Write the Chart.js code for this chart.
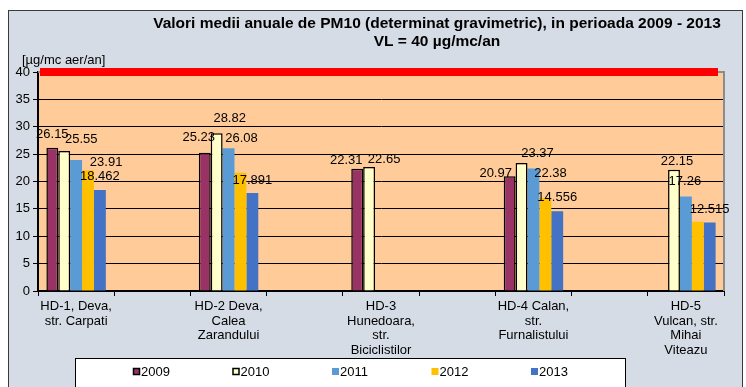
<!DOCTYPE html>
<html>
<head>
<meta charset="utf-8">
<script src="https://cdn.jsdelivr.net/npm/chart.js"></script>
<style>
  html, body { margin: 0; padding: 0; background: #fff; }
  #wrap { width: 746px; height: 387px; }
</style>
</head>
<body>
<div id="wrap"><canvas id="pm10Chart" width="746" height="387"></canvas></div>
<script>
// statii (cu coloane goale intre ele, ca in graficul original)
const stations = [
  ['HD-1, Deva,', 'str. Carpati'], '',
  ['HD-2 Deva,', 'Calea', 'Zarandului'], '',
  ['HD-3', 'Hunedoara,', 'str.', 'Biciclistilor'], '',
  ['HD-4 Calan,', 'str.', 'Furnalistului'], '',
  ['HD-5', 'Vulcan, str.', 'Mihai', 'Viteazu']
];
const years = ['2009', '2010', '2011', '2012', '2013'];
const pm2009 = [26.15, null, 25.23, null, 22.31, null, 20.97, null, null];
const pm2010 = [25.55, null, 28.82, null, 22.65, null, 23.37, null, 22.15];
const pm2011 = [23.91, null, 26.08, null, null, null, 22.38, null, 17.26];
const pm2012 = [22.0, null, 21.6, null, null, null, 17.0, null, 12.65];
const pm2013 = [18.462, null, 17.891, null, null, null, 14.556, null, 12.515];
const yTicks = [0, 5, 10, 15, 20, 25, 30, 35, 40];
const limitValue = 40;

const colors = ['#993366', '#FFFFCC', '#5B9BD5', '#FFC000', '#4472C4'];
const borders = ['#000', '#000', null, null, null];
const FONT = "'Liberation Sans', Arial, sans-serif";

// deplasarea etichetelor de valoare [dx, dy] fata de mijlocul barei; null = fara eticheta
const labelShift = [
  [[0, 0], null, [-6, -2], null, [-11, 5], null, [-14, 10], null, null],
  [[17, 1], null, [13, -2], null, [15, 5], null, [16, 3], null, [3, 5]],
  [[30, 15], null, [13, 3], null, null, null, [17, 18], null, [-1, -2]],
  [null, null, null, null, null, null, null, null, null],
  [[0, 0], null, [0, 0], null, null, null, [0, -1], null, [0, 0]]
];

const series = [pm2009, pm2010, pm2011, pm2012, pm2013];

const framePlugin = {
  id: 'frame',
  beforeDraw(chart) {
    const c = chart.ctx, a = chart.chartArea;
    c.save();
    c.fillStyle = '#fff';
    c.fillRect(0, 0, chart.width, chart.height);
    c.fillStyle = '#D6DCE5';
    c.fillRect(8, 10, 735, 400);
    c.strokeStyle = '#3a3a3a';
    c.lineWidth = 1;
    c.strokeRect(8.5, 10.5, 734, 400);
    c.fillStyle = '#FFCC99';
    c.fillRect(a.left, a.top, a.right - a.left, a.bottom - a.top);
    c.restore();
  },
  afterDatasetsDraw(chart) {
    const c = chart.ctx, a = chart.chartArea;
    const y = chart.scales.y;
    c.save();
    // chenar gri al zonei de desenare
    c.strokeStyle = '#8c8c8c';
    c.lineWidth = 2;
    c.beginPath();
    c.moveTo(a.left, a.top);
    c.lineTo(a.right, a.top);
    c.lineTo(a.right, a.bottom);
    c.stroke();
    // valoarea limita VL
    const yl = y.getPixelForValue(limitValue);
    c.strokeStyle = '#FF0000';
    c.lineWidth = 8;
    c.beginPath();
    c.moveTo(a.left + 2, yl);
    c.lineTo(a.right - 6, yl);
    c.stroke();
    // etichete de valoare
    c.fillStyle = '#000';
    c.font = '13px ' + FONT;
    c.textAlign = 'center';
    c.textBaseline = 'middle';
    series.forEach((vals, d) => {
      const meta = chart.getDatasetMeta(d);
      vals.forEach((v, i) => {
        const s = labelShift[d][i];
        if (v === null || !s) return;
        const bar = meta.data[i];
        c.fillText(String(v), bar.x + s[0], bar.y - 13 + s[1]);
      });
    });
    c.restore();
  },
  afterDraw(chart) {
    const c = chart.ctx;
    c.save();
    c.fillStyle = '#000';
    c.textAlign = 'center';
    c.textBaseline = 'middle';
    c.font = 'bold 15.5px ' + FONT;
    c.fillText('Valori medii anuale de PM10 (determinat gravimetric), in perioada 2009 - 2013', 437, 24);
    c.fillText('VL = 40 \u00b5g/mc/an', 437, 42);
    c.font = '13px ' + FONT;
    c.textAlign = 'left';
    c.fillText('[\u00b5g/mc aer/an]', 22, 60);
    // legenda
    c.fillStyle = '#fff';
    c.fillRect(75, 358, 550, 40);
    c.strokeStyle = '#000';
    c.lineWidth = 1;
    c.strokeRect(75.5, 358.5, 550, 40);
    years.forEach((yr, i) => {
      const x = 133 + i * 99.5, yc = 372;
      c.fillStyle = colors[i];
      c.fillRect(x, yc - 4, 7, 7);
      if (borders[i]) {
        c.strokeStyle = borders[i];
        c.lineWidth = 1.5;
        c.strokeRect(x + 0.5, yc - 3.5, 6, 6);
      }
      c.fillStyle = '#000';
      c.fillText(yr, x + 8, yc);
    });
    c.restore();
  }
};

new Chart(document.getElementById('pm10Chart'), {
  type: 'bar',
  data: {
    labels: stations,
    datasets: series.map((vals, d) => ({
      label: years[d],
      data: vals,
      backgroundColor: colors[d],
      borderColor: borders[d] || colors[d],
      borderWidth: borders[d] ? 1.5 : 0,
      categoryPercentage: 0.78,
      barPercentage: 1.0
    }))
  },
  options: {
    responsive: false,
    animation: false,
    layout: { padding: { left: 0, right: 22, top: 72, bottom: 0 } },
    plugins: {
      legend: { display: false },
      title: { display: false },
      tooltip: { enabled: false }
    },
    scales: {
      x: {
        afterFit(scale) { scale.height = 96; },
        grid: { display: true, drawOnChartArea: false, drawTicks: true, tickLength: 5, color: '#000', offset: true },
        border: { display: true, color: '#000', width: 2 },
        ticks: {
          autoSkip: false, maxRotation: 0, color: '#000', padding: 3,
          font: { family: FONT, size: 13, lineHeight: 1.13 }
        }
      },
      y: {
        min: 0,
        max: 40,
        afterFit(scale) { scale.width = 38; },
        afterBuildTicks(scale) { scale.ticks = yTicks.map(v => ({ value: v })); },
        grid: { color: '#000', lineWidth: 1, drawTicks: true, tickLength: 5, tickColor: '#000' },
        border: { display: true, color: '#000', width: 2 },
        ticks: { color: '#000', padding: 3, font: { family: FONT, size: 13 } }
      }
    }
  },
  plugins: [framePlugin]
});
</script>
</body>
</html>
